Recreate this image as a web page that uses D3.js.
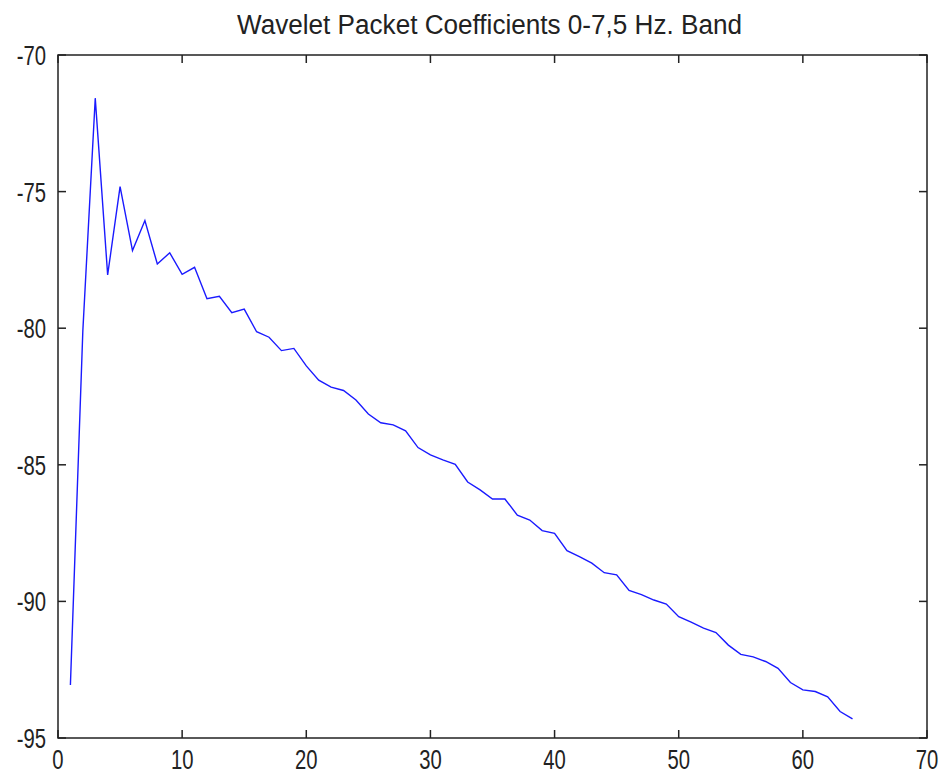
<!DOCTYPE html>
<html><head><meta charset="utf-8">
<script src="https://cdn.jsdelivr.net/npm/d3@7"></script>
<style>html,body{margin:0;padding:0;background:#fff;}</style>
</head><body>
<svg id="chart" width="944" height="776"></svg>
<script>
const title = "Wavelet Packet Coefficients 0-7,5 Hz. Band";
const xIndex = d3.range(1, 65);
const values = [
 -93.06, -80.1, -71.58, -78.05, -74.82, -77.16, -76.06, -77.65, -77.24, -78.03,
 -77.77, -78.92, -78.83, -79.43, -79.3, -80.13, -80.33, -80.82, -80.74, -81.38,
 -81.9, -82.16, -82.28, -82.63, -83.14, -83.46, -83.54, -83.76, -84.37, -84.64,
 -84.82, -84.98, -85.63, -85.92, -86.25, -86.25, -86.84, -87.02, -87.41, -87.51,
 -88.14, -88.36, -88.6, -88.95, -89.03, -89.6, -89.75, -89.95, -90.1, -90.56,
 -90.76, -90.98, -91.14, -91.6, -91.94, -92.03, -92.2, -92.45, -92.97, -93.24,
 -93.3, -93.49, -94.03, -94.3
];
const xTicks = [0, 10, 20, 30, 40, 50, 60, 70];
const yTicks = [-95, -90, -85, -80, -75, -70];

const L = 58, R = 927, T = 55, B = 738;
const svg = d3.select("#chart");
const x = d3.scaleLinear().domain([0, 70]).range([L, R]);
const y = d3.scaleLinear().domain([-95, -70]).range([B, T]);
const font = "'Liberation Sans', Arial, sans-serif";
const axisColor = "#222";
const tickLen = 8;

// line
svg.append("path")
  .datum(xIndex.map((d, i) => [d, values[i]]))
  .attr("fill", "none")
  .attr("stroke", "#1a1aff")
  .attr("stroke-width", 1.4)
  .attr("d", d3.line().x(d => x(d[0])).y(d => y(d[1])));

// box
svg.append("rect").attr("x", L).attr("y", T).attr("width", R - L).attr("height", B - T)
  .attr("fill", "none").attr("stroke", axisColor).attr("stroke-width", 1.5);

// ticks
const tg = svg.append("g").attr("stroke", axisColor).attr("stroke-width", 1.5);
xTicks.forEach(t => {
  tg.append("line").attr("x1", x(t)).attr("x2", x(t)).attr("y1", B).attr("y2", B - tickLen);
  tg.append("line").attr("x1", x(t)).attr("x2", x(t)).attr("y1", T).attr("y2", T + tickLen);
});
yTicks.forEach(t => {
  tg.append("line").attr("x1", L).attr("x2", L + tickLen).attr("y1", y(t)).attr("y2", y(t));
  tg.append("line").attr("x1", R).attr("x2", R - tickLen).attr("y1", y(t)).attr("y2", y(t));
});

const sx = 0.75;
// x labels
xTicks.forEach(t => {
  svg.append("text")
    .attr("transform", `translate(${x(t)},${B + 31}) scale(${sx},1)`)
    .attr("text-anchor", "middle")
    .attr("font-family", font).attr("font-size", 27).attr("fill", "#222")
    .text(t);
});
// y labels
yTicks.forEach(t => {
  svg.append("text")
    .attr("transform", `translate(${L - 12},${y(t) + 10}) scale(${sx},1)`)
    .attr("text-anchor", "end")
    .attr("font-family", font).attr("font-size", 27).attr("fill", "#222")
    .text(t);
});
// title
svg.append("text")
  .attr("x", 237).attr("y", 34)
  .attr("font-family", font).attr("font-size", 27).attr("fill", "#222")
  .attr("textLength", 505).attr("lengthAdjust", "spacingAndGlyphs")
  .text(title);
</script>
</body></html>
